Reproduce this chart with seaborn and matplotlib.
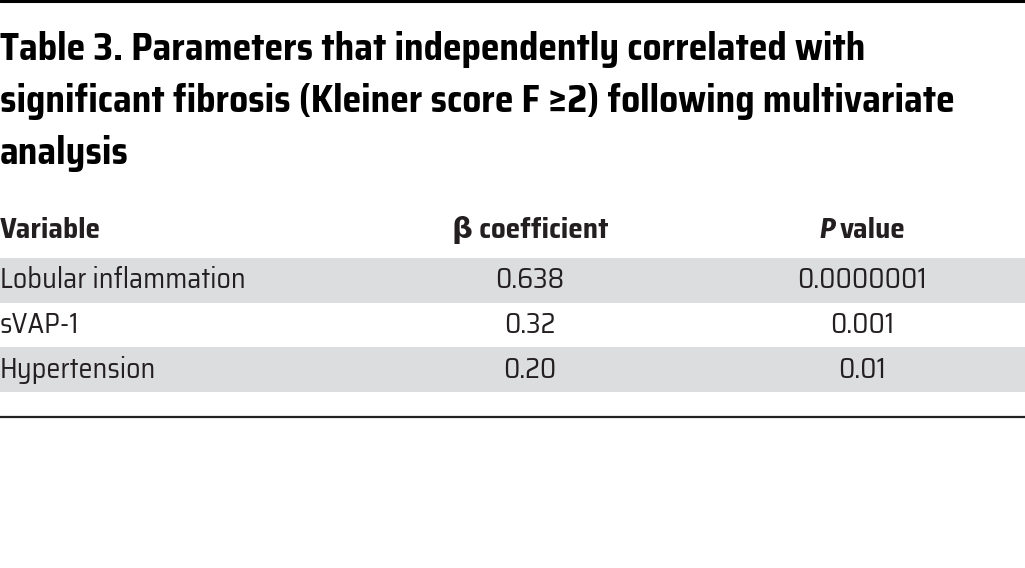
import matplotlib.pyplot as plt
import seaborn as sns

# Table content
title_lines = [
    "Table 3. Parameters that independently correlated with",
    "significant fibrosis (Kleiner score F \u22652) following multivariate",
    "analysis",
]
columns = ["Variable", "\u03b2 coefficient", "P value"]
variables = ["Lobular inflammation", "sVAP-1", "Hypertension"]
beta_coef = ["0.638", "0.32", "0.20"]
p_values = ["0.0000001", "0.001", "0.01"]

sns.set_theme(style="white")
plt.rcParams["font.family"] = ["Saira SemiCondensed", "DejaVu Sans"]

fig = plt.figure(figsize=(10.25, 5.68), dpi=100)
ax = fig.add_axes([0, 0, 1, 1])
ax.set_xlim(0, 1025)
ax.set_ylim(568, 0)
ax.axis("off")

# Rules
ax.axhline(1, color="black", lw=2.2)
ax.axhline(417, color="#222222", lw=1.6)

# Title
for i, line in enumerate(title_lines):
    ax.text(0, 50 + i * 51.5, line, fontsize=27, fontweight="bold",
            va="center", ha="left", color="black")

col_x = [0, 530, 862]
header_y = 230
row_top, row_h = 258, 44.7
text_color = "#231f20"

# Header
head, pval = columns[2].split(" ", 1)
ax.text(col_x[0], header_y, columns[0], fontsize=21, fontweight="bold",
        va="center", ha="left", color=text_color)
ax.text(col_x[1], header_y, columns[1], fontsize=21, fontweight="bold",
        va="center", ha="center", color=text_color)
ax.text(col_x[2] - 27, header_y, head, fontsize=21, fontweight="bold",
        style="italic", family=["Fira Sans Condensed", "DejaVu Sans"],
        va="center", ha="right", color=text_color)
ax.text(col_x[2] - 22, header_y, pval, fontsize=21, fontweight="bold",
        va="center", ha="left", color=text_color)

# Rows
for i, (var, b, p) in enumerate(zip(variables, beta_coef, p_values)):
    top = row_top + i * row_h
    if i % 2 == 0:
        ax.axhspan(top, top + row_h, color="#dcddde", lw=0)
    yc = top + row_h / 2
    ax.text(col_x[0], yc, var, fontsize=20.2, va="center", ha="left", color=text_color)
    ax.text(col_x[1], yc, b, fontsize=20.2, va="center", ha="center", color=text_color)
    ax.text(col_x[2], yc, p, fontsize=20.2, va="center", ha="center", color=text_color)

fig.savefig("out.png", dpi=100)
